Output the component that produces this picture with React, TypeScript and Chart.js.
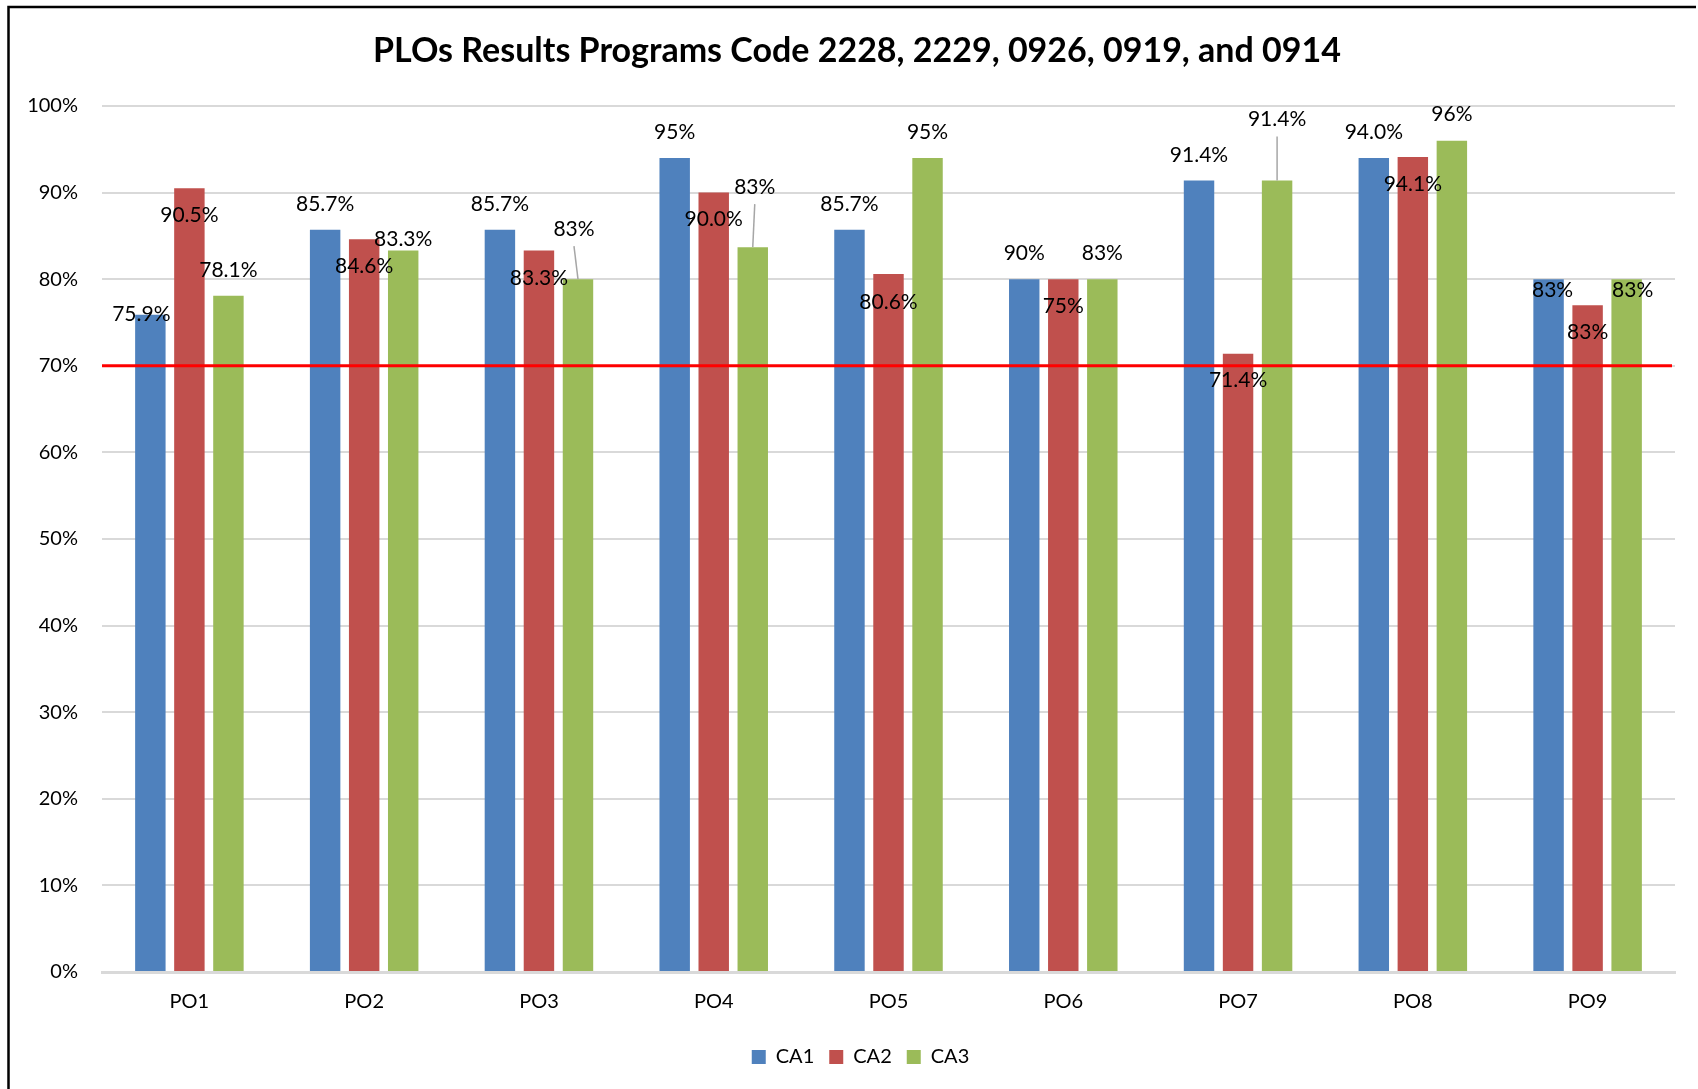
import React, { useEffect, useRef } from "react";
import { Chart, registerables } from "chart.js";

Chart.register(...registerables);

// ---------- data ----------
const categories = ["PO1", "PO2", "PO3", "PO4", "PO5", "PO6", "PO7", "PO8", "PO9"];
const seriesNames = ["CA1", "CA2", "CA3"];

const ca1Values = [75.9, 85.7, 85.7, 94.0, 85.7, 80.0, 91.4, 94.0, 80.0];
const ca2Values = [90.5, 84.6, 83.3, 90.0, 80.6, 80.0, 71.4, 94.1, 77.0];
const ca3Values = [78.1, 83.3, 80.0, 83.7, 94.0, 80.0, 91.4, 96.0, 80.0];

// data label texts as printed on the chart
const ca1Labels = ["75.9%", "85.7%", "85.7%", "95%", "85.7%", "90%", "91.4%", "94.0%", "83%"];
const ca2Labels = ["90.5%", "84.6%", "83.3%", "90.0%", "80.6%", "75%", "71.4%", "94.1%", "83%"];
const ca3Labels = ["78.1%", "83.3%", "83%", "83%", "95%", "83%", "91.4%", "96%", "83%"];

const targetValue = 70;
const yMin = 0;
const yMax = 100;
const yStep = 10;

const titleText = "PLOs Results Programs Code 2228, 2229, 0926, 0919, and 0914";

// ---------- styling ----------
const colors = ["#4F81BD", "#C0504D", "#9BBB59"];
const FONT = "Lato";

// label placement relative to the bar top (pixels): [dx, dy, leader]
type Place = [number, number, boolean];
const ca1Place: Place[] = [[-9, 0, false], [0, -26, false], [0, -26, false], [0, -26, false], [0, -26, false], [0, -26, false], [0, -25, false], [0, -26, false], [4, 11, false]];
const ca2Place: Place[] = [[0, 27, false], [0, 27, false], [0, 28, false], [0, 27, false], [0, 28, false], [0, 27, false], [0, 27, false], [0, 27, false], [0, 27, false]];
const ca3Place: Place[] = [[0, -25, false], [0, -11, false], [-4, -50, true], [2, -60, true], [0, -26, false], [0, -26, false], [0, -61, true], [0, -26, false], [6, 11, false]];

const allLabels = [ca1Labels, ca2Labels, ca3Labels];
const allPlace = [ca1Place, ca2Place, ca3Place];

const framePlugin = {
  id: "frame",
  afterLayout(chart: any) {
    // centre the legend under the title
    if (chart.legend) {
      chart.legend.left += 18;
      chart.legend.right += 18;
    }
  },
  beforeDraw(chart: any) {
    const { ctx, width, height } = chart;
    ctx.save();
    ctx.fillStyle = "#ffffff";
    ctx.fillRect(0, 0, width, height);
    ctx.strokeStyle = "#000000";
    ctx.lineWidth = 2.5;
    ctx.beginPath();
    ctx.moveTo(8.5, height);
    ctx.lineTo(8.5, 7);
    ctx.lineTo(1696, 7);
    ctx.stroke();
    ctx.restore();
  },
  afterDraw(chart: any) {
    const { ctx } = chart;
    ctx.save();
    ctx.font = `bold 34px ${FONT}`;
    ctx.fillStyle = "#000000";
    ctx.textAlign = "center";
    ctx.textBaseline = "middle";
    ctx.fillText(titleText, 857, 51);
    ctx.restore();
  },
};

const overlayPlugin = {
  id: "overlay",
  afterDatasetsDraw(chart: any) {
    const { ctx, chartArea, scales } = chart;
    const yScale = scales.y;
    ctx.save();
    // target line
    const ty = yScale.getPixelForValue(targetValue);
    ctx.strokeStyle = "#FF0000";
    ctx.lineWidth = 3;
    ctx.beginPath();
    ctx.moveTo(chartArea.left, ty);
    ctx.lineTo(chartArea.right - 3, ty);
    ctx.stroke();

    // data labels
    ctx.font = `21px ${FONT}`;
    ctx.fillStyle = "#000000";
    ctx.textAlign = "center";
    ctx.textBaseline = "middle";
    chart.data.datasets.forEach((_ds: any, di: number) => {
      const meta = chart.getDatasetMeta(di);
      meta.data.forEach((bar: any, i: number) => {
        const [dx, dy, leader] = allPlace[di][i];
        const lx = bar.x + dx;
        const ly = bar.y + dy;
        if (leader) {
          ctx.strokeStyle = "#A6A6A6";
          ctx.lineWidth = 1.5;
          ctx.beginPath();
          ctx.moveTo(lx, ly + 17);
          ctx.lineTo(bar.x, bar.y);
          ctx.stroke();
        }
        ctx.fillText(allLabels[di][i], lx, ly);
      });
    });
    ctx.restore();
  },
};

export default function App() {
  const canvasRef = useRef<HTMLCanvasElement | null>(null);

  useEffect(() => {
    let chart: Chart | null = null;
    let cancelled = false;

    const build = () => {
      if (cancelled || !canvasRef.current) return;
      const valuesList = [ca1Values, ca2Values, ca3Values];
      chart = new Chart(canvasRef.current, {
        type: "bar",
        data: {
          labels: categories,
          datasets: seriesNames.map((name, i) => ({
            label: name,
            data: valuesList[i],
            backgroundColor: colors[i],
            borderWidth: 0,
            categoryPercentage: 0.67,
            barPercentage: 0.78,
          })),
        },
        options: {
          responsive: false,
          animation: false,
          layout: { padding: { left: 10, right: 23, top: 106, bottom: 12 } },
          plugins: {
            title: { display: false },
            legend: {
              display: true,
              position: "bottom",
              labels: {
                boxWidth: 14,
                boxHeight: 14,
                color: "#000000",
                font: { family: FONT, size: 20 },
                padding: 15,
              },
            },
            tooltip: { enabled: false },
          },
          scales: {
            x: {
              grid: { display: false, drawTicks: false },
              border: { display: true, color: "#D9D9D9", width: 3 },
              ticks: { color: "#000000", font: { family: FONT, size: 20 }, padding: 18 },
              afterFit: (s: any) => {
                s.height = 60;
              },
            },
            y: {
              min: yMin,
              max: yMax,
              grid: { color: "#D9D9D9", lineWidth: 2, drawTicks: false },
              border: { display: false },
              ticks: {
                stepSize: yStep,
                color: "#000000",
                font: { family: FONT, size: 20 },
                padding: 24,
                callback: (v: any) => `${v}%`,
              },
              afterFit: (s: any) => {
                s.width = 92;
              },
            },
          },
        },
        plugins: [framePlugin, overlayPlugin],
      });
    };

    const fontsReady = (document as any).fonts
      ? Promise.all([
          (document as any).fonts.load(`bold 34px ${FONT}`),
          (document as any).fonts.load(`21px ${FONT}`),
        ]).catch(() => null)
      : Promise.resolve(null);
    fontsReady.then(build);

    return () => {
      cancelled = true;
      if (chart) chart.destroy();
    };
  }, []);

  return (
    <div style={{ position: "fixed", left: 0, top: 0, width: 1698, height: 1089, background: "#fff" }}>
      <canvas ref={canvasRef} width={1698} height={1089} style={{ display: "block", width: 1698, height: 1089 }} />
    </div>
  );
}
